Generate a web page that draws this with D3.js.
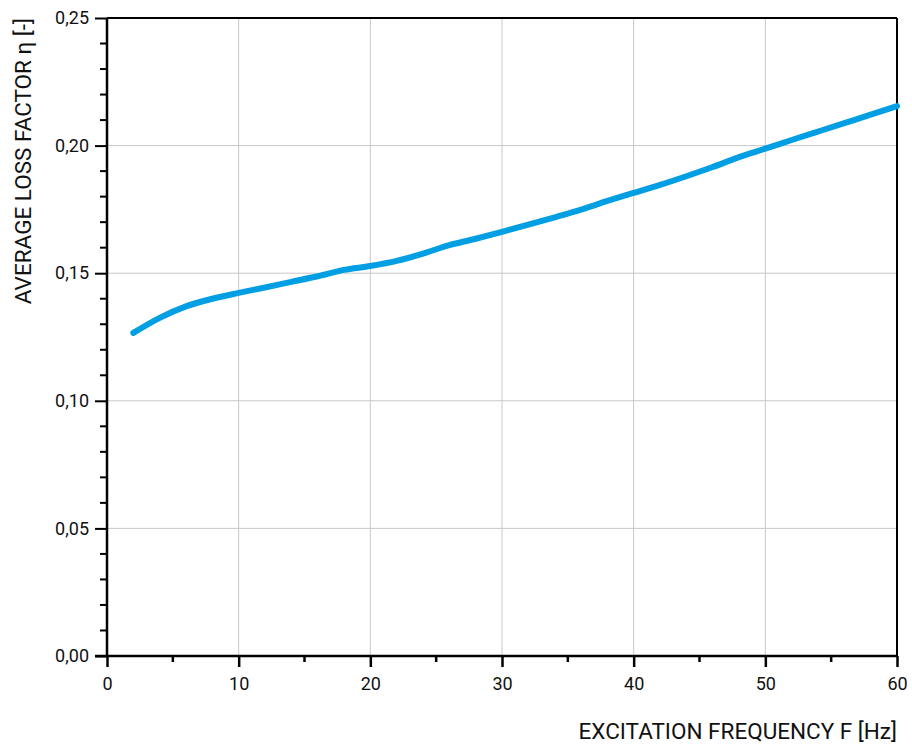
<!DOCTYPE html>
<html><head><meta charset="utf-8">
<script src="https://cdn.jsdelivr.net/npm/d3@7"></script>
<style>body{margin:0;background:#fff}svg text{font-family:"Roboto",sans-serif;fill:#111}</style>
</head><body>
<script>
const freq = [2,4,6,8,10,12,14,16,18,20,22,24,26,28,30,32,34,36,38,40,42,44,46,48,50,52,54,56,58,60];
const eta = [0.1266,0.1325,0.1370,0.1400,0.1423,0.1444,0.1466,0.1488,0.1513,0.1528,0.1548,0.1577,0.1610,0.1635,0.1662,0.1690,0.1719,0.1749,0.1783,0.1815,0.1846,0.1880,0.1916,0.1955,0.1988,0.2022,0.2055,0.2088,0.2121,0.2155];
const xTicks = [0,10,20,30,40,50,60];
const yTicks = [0,0.05,0.10,0.15,0.20,0.25];
const xLabel = "EXCITATION FREQUENCY F [Hz]";
const yLabel = "AVERAGE LOSS FACTOR η [-]";

const W=912,H=745, L=107,R=897,T=18,B=656;
const svg=d3.select("body").append("svg").attr("width",W).attr("height",H);
const x=d3.scaleLinear().domain([0,60]).range([L,R]);
const y=d3.scaleLinear().domain([0,0.25]).range([B,T]);

svg.append("g").selectAll("line").data(xTicks.slice(1,-1)).join("line")
 .attr("x1",d=>x(d)).attr("x2",d=>x(d)).attr("y1",T).attr("y2",B).attr("stroke","#c8c8c8").attr("stroke-width",1);
svg.append("g").selectAll("line").data(yTicks.slice(1,-1)).join("line")
 .attr("y1",d=>y(d)).attr("y2",d=>y(d)).attr("x1",L).attr("x2",R).attr("stroke","#c8c8c8").attr("stroke-width",1);

svg.append("line").attr("x1",L).attr("x2",R).attr("y1",T).attr("y2",T).attr("stroke","#000").attr("stroke-width",2);
svg.append("line").attr("x1",R).attr("x2",R).attr("y1",T).attr("y2",B).attr("stroke","#000").attr("stroke-width",2);

const xMinor=d3.range(5,60,10);
const yMinor=d3.range(0,0.25,0.01).filter(v=>Math.abs(v*20-Math.round(v*20))>1e-6);
const gx=svg.append("g").attr("transform",`translate(0,${B})`)
 .call(d3.axisBottom(x).tickValues(xTicks).tickSize(11).tickPadding(10).tickFormat(d3.format("d")));
gx.select(".domain").attr("stroke-width",2.5).attr("d",`M${L-12},0H${R}`);
gx.selectAll(".tick line").attr("stroke-width",2.5);
gx.selectAll("text").attr("font-size",18).attr("fill","#111");
gx.append("g").selectAll("line").data(xMinor).join("line")
 .attr("x1",d=>x(d)).attr("x2",d=>x(d)).attr("y1",0).attr("y2",6).attr("stroke","#000").attr("stroke-width",2.5);

const gy=svg.append("g").attr("transform",`translate(${L},0)`)
 .call(d3.axisLeft(y).tickValues(yTicks).tickSize(12).tickPadding(6).tickFormat(d=>d3.format(".2f")(d).replace(".",",")));
gy.select(".domain").attr("stroke-width",2.5).attr("d",`M0,${T}V${B}`);
gy.selectAll(".tick line").attr("stroke-width",2);
gy.selectAll("text").attr("font-size",18).attr("fill","#111");
gy.append("g").selectAll("line").data(yMinor).join("line")
 .attr("y1",d=>y(d)).attr("y2",d=>y(d)).attr("x1",0).attr("x2",-7).attr("stroke","#000").attr("stroke-width",2);

svg.append("path").datum(freq.map((f,i)=>[f,eta[i]]))
 .attr("d",d3.line().x(d=>x(d[0])).y(d=>y(d[1])).curve(d3.curveMonotoneX))
 .attr("fill","none").attr("stroke","#009fe3").attr("stroke-width",6).attr("stroke-linecap","round").attr("stroke-linejoin","round");

svg.append("text").attr("x",R).attr("y",739).attr("text-anchor","end").attr("font-size",22.5).text(xLabel);
svg.append("text").attr("transform",`translate(31,${T}) rotate(-90)`).attr("text-anchor","end").attr("font-size",22.5).text(yLabel);
</script>
</body></html>
